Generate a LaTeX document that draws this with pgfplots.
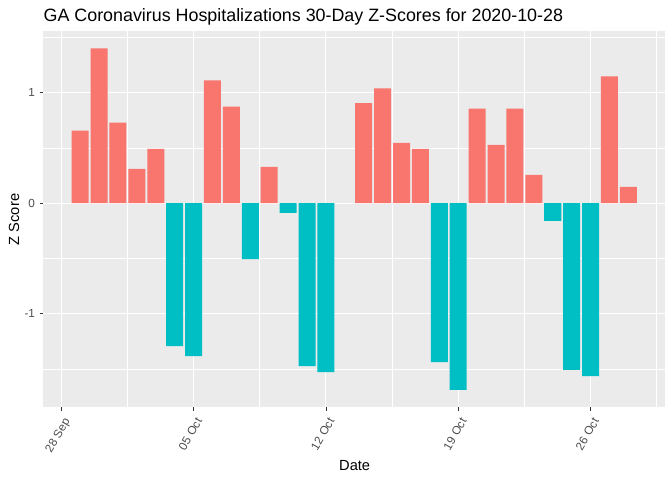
\documentclass[border=0pt]{standalone}
\usepackage{fontspec}
\setmainfont{Liberation Sans}
\usepackage{pgfplots}
\pgfplotsset{compat=1.18}

\definecolor{posred}{HTML}{F8766D}
\definecolor{negteal}{HTML}{00BFC4}
\definecolor{panelgrey}{HTML}{EBEBEB}
\definecolor{grey30}{HTML}{4D4D4D}
\definecolor{grey20}{HTML}{333333}

\begin{document}
\begin{tikzpicture}
  % page is 672x480 px at 0.75pt per px
  \useasboundingbox[fill=white] (0,0) rectangle (504pt,360pt);

  %% days counted from 28 Sep (= 0)
  \begin{axis}[
    at={(32.55pt,54.8pt)}, anchor=south west,
    scale only axis, width=466.3pt, height=281.7pt,
    xmin=-0.945, xmax=31.945, ymin=-1.845, ymax=1.554,
    axis background/.style={fill=panelgrey},
    axis line style={draw=none},
    grid=both,
    major grid style={white, line width=0.8pt},
    minor grid style={white, line width=0.4pt},
    xtick={0,7,14,21,28},
    xticklabels={28 Sep,05 Oct,12 Oct,19 Oct,26 Oct},
    minor xtick={-3.5,3.5,10.5,17.5,24.5,31.5},
    ytick={-1,0,1},
    minor ytick={-1.5,-0.5,0.5,1.5},
    tick pos=left,
    tick align=outside,
    major tick length=2.75pt,
    minor tick length=0pt,
    tick style={grey20, line width=0.5pt},
    ticklabel style={font=\fontsize{8.8}{10}\selectfont, text=grey30},
    x tick label style={rotate=60, anchor=north east},
    /pgf/number format/assume math mode=true,
    ybar, bar width=0.9, bar shift=0pt,
    ]
    % z-score above zero
    \addplot[draw=none, fill=posred] coordinates {
      (1,0.655) (2,1.40) (3,0.727) (4,0.31) (5,0.49)
      (8,1.11) (9,0.873) (11,0.327)
      (16,0.905) (17,1.037) (18,0.545) (19,0.49)
      (22,0.855) (23,0.527) (24,0.855) (25,0.255)
      (29,1.146) (30,0.146)
    };
    % z-score below zero
    \addplot[draw=none, fill=negteal] coordinates {
      (6,-1.294) (7,-1.385) (10,-0.507) (12,-0.088)
      (13,-1.475) (14,-1.53) (20,-1.44) (21,-1.69)
      (26,-0.161) (27,-1.51) (28,-1.566)
    };
  \end{axis}

  \node[anchor=base west, inner sep=0pt, font=\fontsize{13.4}{15}\selectfont]
    at (32.55pt,343.7pt) {GA Coronavirus Hospitalizations 30-Day Z-Scores for 2020-10-28};
  \node[anchor=base, inner sep=0pt, font=\fontsize{11}{13}\selectfont] at (266pt,7.5pt) {Date};
  \node[rotate=90, inner sep=0pt, font=\fontsize{11}{13}\selectfont] at (10.5pt,195.4pt) {Z Score};
\end{tikzpicture}
\end{document}
